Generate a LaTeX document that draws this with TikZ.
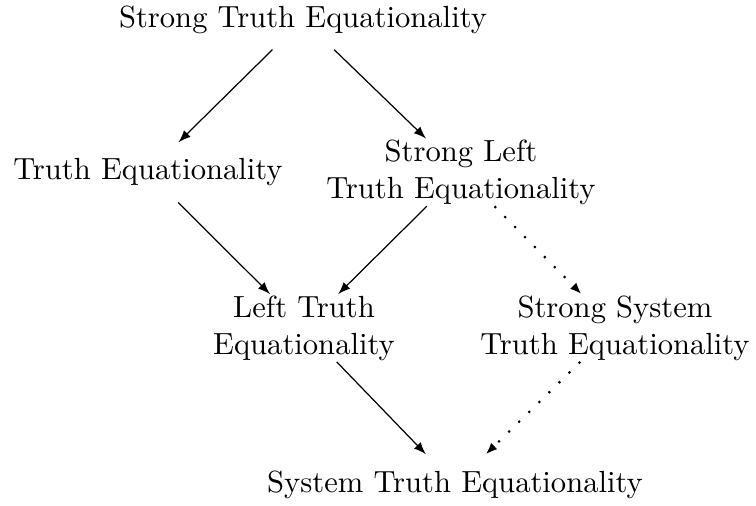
\documentclass[tikz,border=0pt]{standalone}
\usetikzlibrary{arrows,arrows.meta}
\begin{document}
\begin{tikzpicture}[x=0.3268pt,y=-0.3268pt,
  prop/.style={align=center,inner sep=0.33pt,minimum height=19.3pt},
  imp/.style={-latex,thin},
  weak/.style={-{Latex[length=3.8pt,width=2.9pt]},line width=0.7pt,dash pattern=on 0.7pt off 3.9pt}]
\useasboundingbox (0,0) rectangle (756,506);
\node[prop] (ste) at (303,19.5) {Strong Truth Equationality};
\node[prop] (te) at (148,172.4) {Truth Equationality};
\node[prop] (slte) at (461,172.4) {Strong Left\\Truth Equationality};
\node[prop] (lte) at (304,328) {Left Truth\\Equationality};
\node[prop] (sste) at (615,328) {Strong System\\Truth Equationality};
\node[prop] (syte) at (455,484.4) {System Truth Equationality};
\draw[imp] (ste) -- (te);
\draw[imp] (ste) -- (slte);
\draw[imp] (te) -- (lte);
\draw[imp] (slte) -- (lte);
\draw[weak] (slte) -- (sste);
\draw[imp] (lte) -- (syte);
\draw[weak] (sste) -- (syte);
\end{tikzpicture}
\end{document}
